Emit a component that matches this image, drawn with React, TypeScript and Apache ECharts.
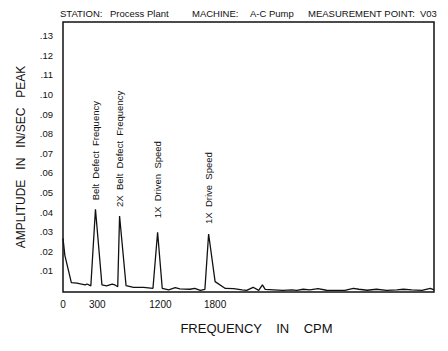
import React, { useEffect, useRef } from 'react';
import * as echarts from 'echarts';

// Spectrum: FFT line index (0..400) and amplitude in in/sec peak
const lines = [0, 2, 9, 15, 20, 24, 26, 30, 35, 42, 47, 53, 56, 59, 61, 68, 76, 87, 97, 102, 107, 114, 121, 126, 137, 142, 148, 153, 157, 164, 175, 184, 193, 198, 205, 211, 215, 218, 227, 237, 247, 252, 259, 266, 275, 284, 295, 304, 313, 319, 328, 338, 349, 360, 367, 376, 387, 396, 400];
const amplitude = [0.0266, 0.0179, 0.0040, 0.0037, 0.0032, 0.0028, 0.0033, 0.0023, 0.0414, 0.0028, 0.0023, 0.0032, 0.0028, 0.0019, 0.0380, 0.0024, 0.0016, 0.0016, 0.0011, 0.0297, 0.0011, 0.0003, 0.0014, 0.0008, 0.0006, 0.0011, 0.0000, 0.0006, 0.0288, 0.0045, 0.0010, 0.0009, 0.0003, 0.0000, 0.0016, 0.0000, 0.0028, 0.0005, 0.0003, 0.0000, 0.0003, 0.0000, 0.0006, 0.0003, 0.0009, 0.0001, 0.0000, 0.0000, 0.0011, 0.0006, 0.0001, 0.0006, 0.0000, 0.0003, 0.0006, 0.0003, 0.0000, 0.0011, 0.0003];

// Peak annotations
const peakLines = [35, 61, 102, 157];
const peakNames = ['Belt  Defect  Frequency', '2X  Belt  Defect  Frequency', '1X  Driven  Speed', '1X  Drive  Speed'];

// Frequency tick labels (CPM) at FFT lines
const xTickLines = [0, 37, 105, 164];
const xTickLabels = ['0', '300', '1200', '1800'];

// Amplitude tick labels
const yTickValues = [0.01, 0.02, 0.03, 0.04, 0.05, 0.06, 0.07, 0.08, 0.09, 0.10, 0.11, 0.12, 0.13];

// Header fields
const headerParts = ['STATION:', 'Process Plant', 'MACHINE:', 'A-C Pump', 'MEASUREMENT POINT:', 'V03'];

const FONT = '"Liberation Sans", Arial, sans-serif';

export default function App() {
  const ref = useRef<HTMLDivElement>(null);
  useEffect(() => {
    if (!ref.current) return;
    const chart = echarts.init(ref.current, null, { renderer: 'svg' });
    const data = lines.map((l, i) => [l, amplitude[i]]);
    const peakGaps = [9, 9, 14, 10];
    const peaks = peakLines.map((l, k) => ({
      coord: [l, amplitude[lines.indexOf(l)]],
      label: {
        show: true,
        formatter: peakNames[k],
        position: 'top',
        distance: peakGaps[k],
        rotate: 90,
        align: 'left',
        verticalAlign: 'middle',
        fontSize: 9.5,
        fontFamily: FONT,
        color: '#111',
      },
    }));
    const partWidths = [50, 82, 58, 58, 112, 20];
    const rich: Record<string, any> = {};
    headerParts.forEach((_, i) => {
      rich['p' + i] = { width: partWidths[i], fontSize: 9.5, color: '#111', fontFamily: FONT };
    });
    chart.setOption({
      animation: false,
      backgroundColor: '#fff',
      title: {
        text: headerParts.map((p, i) => `{p${i}|${p}}`).join(''),
        left: 55,
        top: 3,
        textStyle: { fontSize: 9.5, fontWeight: 'normal', color: '#111', fontFamily: FONT, rich },
      },
      grid: {
        left: 63,
        right: 14,
        top: 22,
        bottom: 59,
        show: true,
        borderColor: '#111',
        borderWidth: 1.5,
        backgroundColor: 'transparent',
      },
      xAxis: {
        type: 'value',
        min: 0,
        max: 400,
        name: 'FREQUENCY    IN    CPM',
        nameLocation: 'middle',
        nameGap: 30,
        nameTextStyle: { fontSize: 13, color: '#111', fontFamily: FONT, padding: [0, 0, 0, 16] },
        axisLine: { show: false },
        axisTick: { show: false },
        splitLine: { show: false },
        axisLabel: {
          customValues: xTickLines,
          formatter: (v: number) => xTickLabels[xTickLines.indexOf(v)] ?? '',
          fontSize: 10,
          color: '#111',
          fontFamily: FONT,
          margin: 7,
        },
      },
      yAxis: {
        type: 'value',
        min: -0.0008,
        max: 0.137,
        name: 'AMPLITUDE   IN   IN/SEC   PEAK',
        nameLocation: 'middle',
        nameGap: 36,
        nameTextStyle: { fontSize: 12, color: '#111', fontFamily: FONT },
        axisLine: { show: false },
        axisTick: { show: false },
        splitLine: { show: false },
        axisLabel: {
          customValues: yTickValues,
          formatter: (v: number) => '.' + String(Math.round(v * 100)).padStart(2, '0'),
          fontSize: 9.5,
          color: '#111',
          fontFamily: FONT,
          margin: 10,
        },
      },
      series: [
        {
          type: 'line',
          data,
          showSymbol: false,
          symbol: 'none',
          lineStyle: { color: '#111', width: 1.3 },
          markPoint: {
            symbol: 'circle',
            symbolSize: 0,
            silent: true,
            itemStyle: { color: 'transparent' },
            data: peaks,
          },
        },
      ],
    });
    return () => chart.dispose();
  }, []);
  return <div ref={ref} style={{ width: 448, height: 351, position: 'absolute', left: 0, top: 0 }} />;
}
